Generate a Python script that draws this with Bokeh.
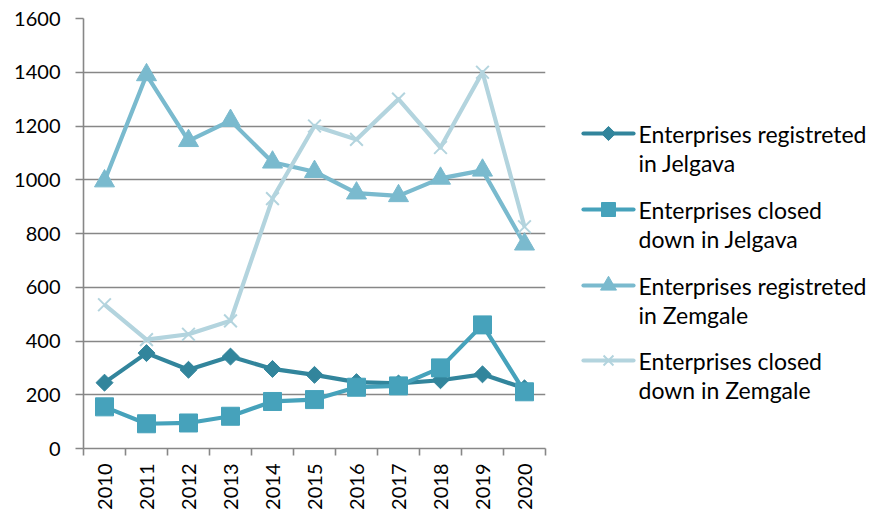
import math
from bokeh.plotting import figure
from bokeh.layouts import row
from bokeh.models import FixedTicker, Range1d
from bokeh.core.properties import value
from bokeh.embed import file_html
from bokeh.resources import INLINE

years = [2010, 2011, 2012, 2013, 2014, 2015, 2016, 2017, 2018, 2019, 2020]
reg_jelgava = [245, 355, 293, 342, 296, 274, 247, 242, 254, 276, 224]
closed_jelgava = [155, 92, 95, 120, 175, 182, 228, 233, 300, 460, 211]
reg_zemgale = [995, 1390, 1145, 1220, 1065, 1030, 950, 940, 1005, 1035, 760]
closed_zemgale = [535, 405, 425, 475, 930, 1200, 1150, 1300, 1120, 1400, 825]
y_ticks = [0, 200, 400, 600, 800, 1000, 1200, 1400, 1600]
label_lines = [
    ["Enterprises registreted", "in Jelgava"],
    ["Enterprises closed", "down in Jelgava"],
    ["Enterprises registreted", "in Zemgale"],
    ["Enterprises closed", "down in Zemgale"],
]

c_diamond = "#32859C"
c_square = "#46A2BB"
c_tri = "#7ABACE"
c_x = "#B3D4DE"
grid = "#878787"
FONT = "Lato"

TOP, FH, BOT = 18, 430, 63
p = figure(frame_width=462, frame_height=FH, output_backend="svg", toolbar_location=None,
           x_range=Range1d(2009.5, 2020.5), y_range=Range1d(0, 1600),
           min_border_left=83, min_border_top=TOP, min_border_bottom=BOT, min_border_right=5)
p.outline_line_color = None
p.xgrid.visible = False
p.ygrid.grid_line_color = grid
p.ygrid.grid_line_width = 1.6
p.ygrid.ticker = FixedTicker(ticks=y_ticks)

p.yaxis.ticker = FixedTicker(ticks=y_ticks)
p.yaxis.axis_line_color = grid
p.yaxis.axis_line_width = 1.6
p.yaxis.major_tick_line_color = grid
p.yaxis.major_tick_line_width = 1.6
p.yaxis.major_tick_in = 0
p.yaxis.major_tick_out = 8
p.yaxis.minor_tick_line_color = None
p.yaxis.major_label_text_font = FONT
p.yaxis.major_label_text_font_size = "20px"
p.yaxis.major_label_text_color = "#000000"
p.yaxis.major_label_standoff = 15

p.xaxis.ticker = FixedTicker(ticks=years, minor_ticks=[y - 0.5 for y in years] + [years[-1] + 0.5])
p.xaxis.axis_line_color = grid
p.xaxis.axis_line_width = 1.6
p.xaxis.major_tick_line_color = None
p.xaxis.major_tick_out = 6
p.xaxis.minor_tick_line_color = grid
p.xaxis.minor_tick_line_width = 1.6
p.xaxis.minor_tick_in = 0
p.xaxis.minor_tick_out = 7
p.xaxis.major_label_orientation = math.pi / 2
p.xaxis.major_label_text_font = FONT
p.xaxis.major_label_text_font_size = "20px"
p.xaxis.major_label_text_color = "#000000"
p.xaxis.major_label_standoff = 8

lw = 4.2
series = [
    (reg_jelgava, c_diamond, "square", 12, math.pi / 4),
    (closed_jelgava, c_square, "square", 18, 0),
    (reg_zemgale, c_tri, "triangle", 20, 0),
    (closed_zemgale, c_x, "x", 18, 0),
]
for vals, col, mk, sz, ang in series:
    p.line(years, vals, line_color=col, line_width=lw, line_join="round")
    if mk == "x":
        p.scatter(years, vals, marker=mk, size=sz, line_color=col, line_width=2)
    else:
        p.scatter(years, vals, marker=mk, size=sz, angle=ang, fill_color=col, line_color=col)

# legend panel (coordinates equal page pixels)
LW = 318
lg = figure(frame_width=LW, frame_height=FH, output_backend="svg", toolbar_location=None,
            x_range=Range1d(550, 550 + LW), y_range=Range1d(TOP + FH, TOP),
            min_border_left=0, min_border_right=0, min_border_top=TOP, min_border_bottom=BOT)
lg.axis.visible = False
lg.grid.visible = False
lg.outline_line_color = None
item_y = [133, 209, 285, 360]
line_gap = 29
x0, x1, xt = 583, 633, 638
leg_sizes = [10, 14, 16, 14]
for (vals, col, mk, sz, ang), yy, lines, lsz in zip(series, item_y, label_lines, leg_sizes):
    lg.line([x0, x1], [yy, yy], line_color=col, line_width=lw, line_cap="round")
    if mk == "x":
        lg.scatter([(x0 + x1) / 2], [yy], marker=mk, size=lsz, line_color=col, line_width=2)
    else:
        lg.scatter([(x0 + x1) / 2], [yy], marker=mk, size=lsz, angle=ang, fill_color=col, line_color=col)
    lg.text([xt, xt], [yy, yy + line_gap], text=lines, text_font=value(FONT),
            text_font_size="23px", text_baseline="middle", text_align="left", text_color="#000000")

layout = row(p, lg, spacing=0)
open("out.html", "w").write(file_html(layout, INLINE))
